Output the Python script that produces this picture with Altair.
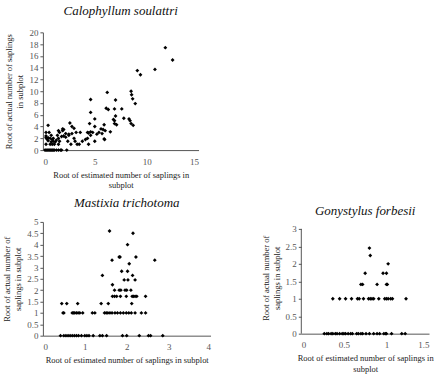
import altair as alt
import pandas as pd

# Calophyllum soulattri
cs_x = [11.8, 12.5, 10.8, 9.1, 9.4, 8.5, 8.55, 8.65, 8.9, 4.6, 6.2, 7.0, 6.1, 6.3, 6.9, 7.6,
        4.6, 5.0, 7.0, 7.8, 6.8, 6.9, 8.3, 8.4, 4.5, 6.9, 7.1, 8.5, 8.7, 5.0, 5.9,
        2.6, 2.8, 3.0, 0.5, 5.6, 5.8, 6.0, 5.4, 6.5, 4.3, 4.4, 4.6, 4.8, 5.2, 5.7, 5.9, 5.95,
        5.0, 4.6, 4.3, 4.1, 4.4, 3.8, 3.5, 3.3, 3.1, 3.0, 3.2, 3.6, 2.8, 2.5, 2.7, 2.2, 2.0,
        1.8, 1.9, 2.0, 1.9, 1.6, 1.5, 1.4, 1.3, 1.2, 1.0, 0.9, 0.8, 0.7, 0.9, 1.1, 1.5, 1.6,
        1.5, 0.6, 0.8, 0.7, 0.3, 0.3, 0.3, 0.4, 0.5, 0.5, 0.3, 1.0, 0.2, 0.3, 0.4, 0.5, 0.6,
        0.7, 0.8, 0.9, 1.0, 1.1, 1.3, 1.5, 1.7, 1.8, 2.3, 2.2, 2.5, 2.4]
cs_y = [17.4, 15.3, 13.7, 13.5, 12.8, 10.0, 9.4, 8.7, 7.9, 8.6, 9.8, 8.5, 7.1, 6.9, 7.0, 7.0,
        6.4, 5.3, 5.8, 5.4, 5.2, 5.0, 5.3, 5.0, 4.5, 4.5, 4.3, 4.5, 4.2, 4.0, 4.3,
        4.6, 4.0, 3.7, 4.2, 3.6, 3.5, 3.3, 3.0, 3.1, 3.0, 2.9, 3.1, 3.0, 2.7, 2.8, 1.9, 1.8,
        1.5, 2.5, 2.0, 1.8, 1.0, 1.5, 1.0, 1.0, 1.5, 2.0, 3.0, 3.0, 2.8, 2.7, 1.0, 2.8, 2.4,
        2.3, 3.3, 3.5, 3.6, 3.0, 3.3, 2.5, 1.7, 1.4, 1.5, 1.8, 1.4, 1.0, 1.0, 1.0, 1.0, 1.5,
        2.0, 3.0, 2.5, 2.0, 3.0, 2.4, 2.1, 1.9, 2.1, 1.6, 1.0, 2.0, 0, 0, 0, 0, 0,
        0, 0, 0, 0, 0, 0, 0, 0, 0, 0, 2.2, 2.5, 1.5]

# Mastixia trichotoma
mt_x = [1.59, 2.15, 2.02, 1.82, 1.84, 2.22, 1.65, 2.67, 2.06, 1.88, 2.02, 1.42, 2.14,
        1.94, 2.03, 2.2, 1.66,
        1.71, 1.82, 1.86, 1.96, 2.0, 2.1,
        1.66, 1.71, 1.76, 1.85, 1.99, 2.13, 2.16, 2.2, 2.24, 2.45,
        0.45, 0.57, 0.83, 1.39, 1.56, 2.12,
        0.48, 0.5, 0.7, 0.73, 0.76, 0.8, 0.84, 0.88, 0.95, 1.18, 1.24, 1.47, 1.51, 1.55, 1.6,
        1.65, 1.72, 1.78, 1.85, 1.92, 1.99, 2.05, 2.11, 2.2, 2.35, 2.45,
        0.42, 0.5, 0.55, 0.6, 0.65, 0.7, 0.75, 0.8, 0.85, 0.92, 1.0, 1.05, 1.1, 1.2, 1.36,
        1.42, 1.52, 1.9, 2.0, 2.3, 2.52, 2.57, 2.86]
mt_y = [4.6, 4.5, 4.0, 3.46, 3.46, 3.46, 3.32, 3.32, 3.16, 2.83, 2.83, 2.65, 2.65,
        2.45, 2.45, 2.45, 2.24,
        2.0, 2.0, 2.0, 2.0, 2.0, 2.0,
        1.73, 1.73, 1.73, 1.73, 1.73, 1.73, 1.73, 1.73, 1.73, 1.73,
        1.41, 1.41, 1.41, 1.41, 1.41, 1.41,
        1, 1, 1, 1, 1, 1, 1, 1, 1, 1, 1, 1, 1, 1, 1,
        1, 1, 1, 1, 1, 1, 1, 1, 1, 1, 1,
        0, 0, 0, 0, 0, 0, 0, 0, 0, 0, 0, 0, 0, 0, 0,
        0, 0, 0, 0, 0, 0, 0, 0]

# Gonystylus forbesii
gf_x = [0.8, 0.81, 1.02, 0.75, 0.96, 1.0, 0.7, 0.72, 0.89, 1.0, 1.01,
        0.37, 0.45, 0.52, 0.59, 0.66, 0.68, 0.73, 0.79, 0.81, 0.83, 0.85, 0.91, 0.98, 1.0,
        1.02, 1.05, 1.07, 1.23,
        0.27, 0.3, 0.32, 0.35, 0.37, 0.4, 0.42, 0.45, 0.48, 0.5, 0.52, 0.55, 0.58, 0.6,
        0.65, 0.67, 0.7, 0.72, 0.76, 0.8, 0.85, 0.89, 0.92, 0.97, 0.99, 1.0, 1.06, 1.18, 1.22]
gf_y = [2.45, 2.24, 2.0, 1.73, 1.73, 1.73, 1.41, 1.41, 1.41, 1.41, 1.41,
        1, 1, 1, 1, 1, 1, 1, 1, 1, 1, 1, 1, 1, 1,
        1, 1, 1, 1,
        0, 0, 0, 0, 0, 0, 0, 0, 0, 0, 0, 0, 0, 0,
        0, 0, 0, 0, 0, 0, 0, 0, 0, 0, 0, 0, 0, 0, 0]

FONT = "Times New Roman, Liberation Serif, serif"


def panel(xs, ys, title, xdom, xvals, ydom, yvals, xtitle, ytitle, w, h, toff=8,
          ymax_line=None):
    n = min(len(xs), len(ys))
    df = pd.DataFrame({"x": list(xs[:n]), "y": list(ys[:n])})
    xscale = alt.Scale(domain=xdom, nice=False, zero=False)
    yscale = alt.Scale(domain=ydom, nice=False, zero=False)
    xaxis = alt.Axis(values=xvals, format="~g", title=xtitle, ticks=False,
                     labelPadding=7, titlePadding=4)
    yaxis = alt.Axis(values=yvals, format="~g", title=ytitle, tickSize=3,
                     labelPadding=2, titlePadding=4, domain=ymax_line is None)
    pts = alt.Chart(df).mark_point(
        shape="diamond", filled=True, color="black", size=15, opacity=1
    ).encode(
        x=alt.X("x:Q", scale=xscale, axis=xaxis),
        y=alt.Y("y:Q", scale=yscale, axis=yaxis),
    )
    layers = [pts]
    if ymax_line is not None:
        line_df = pd.DataFrame({"x0": [xdom[0]], "y0": [ydom[0]], "y1": [ymax_line]})
        axis_line = alt.Chart(line_df).mark_rule(color="#555", strokeWidth=1).encode(
            x=alt.X("x0:Q", scale=xscale, axis=xaxis),
            y=alt.Y("y0:Q", scale=yscale, axis=yaxis),
            y2="y1:Q",
        )
        layers.append(axis_line)
    return alt.layer(*layers).properties(
        width=w, height=h,
        title=alt.Title(title, font=FONT, fontStyle="italic", fontWeight="normal",
                        fontSize=13, anchor="middle", offset=toff, color="#111"),
    )


top = panel(cs_x, cs_y, "Calophyllum soulattri", [0, 15], [0, 5, 10, 15],
            [0, 20], list(range(0, 21, 2)),
            ["Root of estimated number of saplings in", "subplot"],
            ["Root of actual number of saplings", "in subplot"], 156, 118, toff=10)
bl = panel(mt_x, mt_y, "Mastixia trichotoma", [0, 4], [0, 1, 2, 3, 4],
           [0, 5], [i * 0.5 for i in range(11)],
           "Root of estimated number of saplings in subplot",
           ["Root of actual number of", "saplings in subplot"], 168, 114, toff=8)
br = panel(gf_x, gf_y, "Gonystylus forbesii", [0, 1.5], [0, 0.5, 1, 1.5],
           [0, 3.2], [i * 0.5 for i in range(7)],
           ["Root of estimated number of saplings in", "subplot"],
           ["Root of actual number of", "saplings in subplot"], 128, 112, toff=4,
           ymax_line=3)

chart = alt.vconcat(
    top,
    alt.hconcat(bl, br, spacing=50),
    spacing=7,
).properties(
    padding={"left": 2, "top": 5, "right": 2, "bottom": 2}, background="white"
).configure_view(
    stroke=None
).configure_axis(
    grid=False, domainColor="#555", tickColor="#555",
    labelFont=FONT, titleFont=FONT, labelFontSize=9, titleFontSize=8.5,
    titleFontWeight="normal", labelColor="#555", titleColor="#222", titleLineHeight=11,
)

chart.save("out.html", embed_options={"renderer": "svg", "actions": False})
